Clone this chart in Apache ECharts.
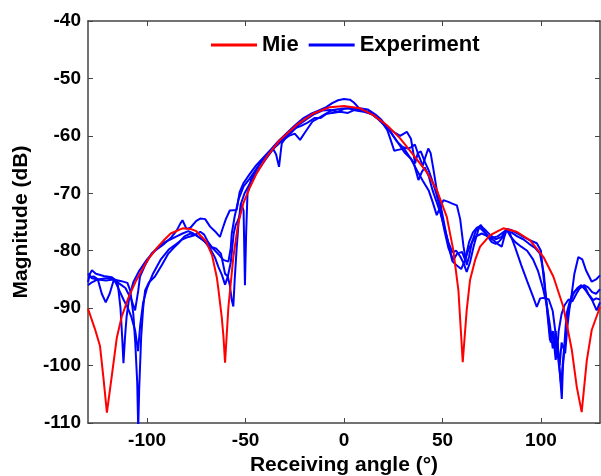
<!DOCTYPE html>
<html>
<head>
<meta charset="utf-8">
<script src="https://cdn.jsdelivr.net/npm/echarts@6/dist/echarts.min.js"></script>
<style>
  html, body { margin: 0; padding: 0; background: #fff; }
  #chart { width: 601px; height: 476px; }
</style>
</head>
<body>
<div id="chart"></div>
<script>
// tick positions
const xTicks = [-100, -50, 0, 50, 100];

// Mie theory curve
const mieAngle = [-130, -126.5, -123.9, -122.2, -120.4, -118, -115.4, -112.9, -109.5, -106, -99.5, -95, -91, -88, -82, -78, -75, -70, -67, -64.5, -63.5, -62.1, -61.2, -60.4,
  -58.7, -56.2, -53.7, -51.1, -47.7, -44.3, -39.2, -32.5, -24, -15.6, -7.1, 0, 8.1, 14.9, 21.7, 28.4, 35.2, 42, 47.1, 52.2, 55.5, 58.1, 60.3,
  62.3, 64, 66.6, 69.1, 74.2, 80.9, 87.7, 94.5, 101.3, 106.3, 111.4, 115.7, 118.2, 120.7, 123.3, 125.8, 130];
const mieDb = [-90.1, -93.6, -96.6, -102, -108.2, -102, -95.2, -91.5, -88.2, -85.5, -81.5, -79.5, -78, -77, -76.1, -76.2, -76.6, -78.4, -80.8, -84.8, -87.5, -91.5, -95, -99.5,
  -89.8, -81.1, -75.2, -71.7, -68.9, -66.5, -63.6, -60.7, -58.1, -56.1, -55.0, -54.8, -55.2, -56.4, -58.1, -60.4, -63.3, -66.3, -69.4, -74.1, -79.9, -86.9, -99.4,
  -90.4, -85.1, -81.6, -79.3, -77.3, -76.1, -76.7, -78.2, -81.1, -84.5, -89.8, -97.3, -103.7, -108.1, -99.1, -93.8, -89.8];

// measured curves
const exp1Angle = [-130, -129, -128, -126, -122, -118, -115, -113.5, -112.5, -112, -111.2, -110.4, -109, -107, -104, -100, -96, -92, -88, -85, -83, -82, -80, -78, -75, -73, -70.5, -68, -65, -63, -61.5, -60, -58, -54.5, -53, -51, -48, -45, -41, -37, -33, -29, -25, -21, -17, -13, -9, -6, -3, 0, 3, 5, 8, 12, 16, 19, 22, 24, 25.5, 28, 30.5, 33, 35.5, 37.8, 39.5, 41, 43, 45, 47, 49, 51, 53, 55, 57, 59, 60.5, 62.3, 64, 66, 68.5, 69.5, 71, 73, 75, 78, 80, 82, 85, 88, 91, 94, 97, 99.5, 101.5, 103, 104.6, 106, 107.5, 108.5, 110, 110.6, 111.2, 112.5, 113.5, 115, 117, 119, 121, 123, 125.8, 128, 130];
const exp1Db = [-85.5, -84, -83.4, -84, -84.4, -84.6, -85.4, -90, -96, -99.6, -95, -91.5, -88, -85.5, -83.5, -81.5, -80, -79, -77.8, -76.5, -75.2, -74.7, -76.2, -76, -74.8, -74.4, -74.5, -75.8, -76.8, -77.6, -76, -74.5, -73, -72.9, -69.8, -68.2, -66.7, -65.3, -63.8, -62.3, -60.8, -59.5, -58.2, -57, -56.2, -55.6, -55, -54.3, -53.8, -53.6, -53.7, -54.2, -55.3, -55.8, -56.6, -57.5, -59, -61, -62.6, -62.4, -62.2, -63.5, -64.8, -67.7, -66.3, -65.5, -67, -69.5, -71.5, -73.5, -76, -78.5, -80.3, -80, -81, -82, -83.7, -82, -79, -76, -75.5, -76.5, -77.5, -77.8, -77.5, -77, -76.5, -76.8, -77.5, -78, -78.8, -79.5, -80.5, -84, -90, -95.6, -94, -99, -96, -103, -105.8, -100, -95, -91, -89.2, -84, -81.1, -81.5, -83.5, -85.4, -85, -84.3];

const exp2Angle = [-130, -127, -125, -123, -121, -119, -117, -115, -113, -111, -108, -106.1, -104.5, -103.6, -101, -97.7, -94, -91, -88, -85, -82, -79, -76.5, -73, -69.7, -66, -63, -61.3, -58.7, -57.5, -57, -55.5, -53.5, -51, -48, -45, -42, -39, -36, -34.5, -33, -32.2, -31.6, -29, -26, -22, -19, -15, -12, -9, -6, -2, 2, 6, 10, 14, 17, 20, 23, 26, 28.5, 31.9, 34, 36.1, 37.5, 39, 41, 43, 45, 47, 49, 51, 53, 55.5, 57.5, 60, 61.5, 63, 65, 67, 70, 73, 76, 78, 80.1, 81.5, 82.6, 84.3, 87, 90, 93, 96, 97.9, 99.6, 102, 104, 106, 107.3, 108, 109, 110.5, 112, 114, 116, 118, 120, 122.4, 124, 126.6, 128, 130];
const exp2Db = [-84.6, -84.5, -85, -87.5, -89, -87.5, -85.2, -85.5, -86, -86.5, -88.5, -90.4, -87, -84.5, -82.5, -80.5, -79.3, -78.5, -78, -77.5, -77, -76.6, -77, -77.8, -78.7, -79.8, -80.9, -81.6, -81.9, -79.5, -77, -74, -71, -68.8, -67.5, -66, -64.5, -63.3, -62.3, -63.2, -65.4, -63, -61.3, -60, -58.8, -58.3, -57.8, -56.9, -56.9, -56.2, -56, -55.8, -56, -55.4, -55.6, -56.2, -57, -58, -58.8, -59.5, -60, -59.3, -60.5, -64.8, -63, -62.7, -64.5, -66, -68, -70.2, -73, -76.5, -79.5, -81.6, -80.5, -80.2, -81.6, -80, -78.5, -77.5, -77, -77.5, -78.2, -78.8, -79.3, -77.5, -76.4, -77, -79.5, -82.5, -85.3, -88, -89.8, -88.3, -88.2, -88.5, -90.5, -94, -98.5, -94, -91, -89.5, -88.5, -88.8, -87.5, -86.3, -86.3, -87.5, -88.6, -88.3, -88.5];

const exp3Angle = [-130, -128, -125, -121, -117, -113, -110, -108.5, -107, -106, -105, -104.5, -104, -103, -102, -101, -99, -96, -92.5, -89.2, -86.5, -84.1, -81, -78, -75, -71, -68, -65.5, -63.8, -62, -60.4, -59, -58, -57, -56.2, -55.5, -54.5, -53.5, -52.5, -50.5, -47, -44, -40, -36, -32, -28, -25, -22.3, -20, -16, -13, -10, -6, -2, 2, 6, 10, 14, 18, 21, 24, 27, 30, 32.5, 34, 36, 38, 40, 41.5, 42.8, 44, 45.5, 47.1, 49, 51, 53, 55, 57, 59.5, 61.5, 63.5, 65.5, 67.5, 69.5, 71.5, 74, 77, 80, 82.6, 85, 88, 91.1, 94, 97.9, 100, 101.3, 102.5, 103.8, 105, 106, 107, 108, 109.5, 110.5, 111.5, 112.3, 113.5, 114.8, 116.5, 118.5, 120.5, 122.5, 124.5, 126, 128.3, 130];
const exp3Db = [-84, -84.8, -85, -85.2, -85, -85.3, -85.6, -87, -91, -96, -103, -111, -104, -95, -90, -86.9, -85.5, -84.5, -82.5, -80.5, -79.5, -78.7, -77.5, -77, -77.3, -78.3, -79.6, -81.2, -82.8, -84.2, -85.9, -84.5, -86, -88.6, -89.7, -85, -79.5, -75, -72, -70, -67.8, -66.2, -64.2, -62.3, -61, -60, -59.6, -60.7, -59.5, -57.5, -56.9, -56.3, -55.5, -55.3, -55.2, -55.6, -55.8, -56.2, -57.2, -58.1, -59.5, -61, -62, -62.2, -62, -61.5, -63.5, -65.2, -63.5, -62.2, -63, -66, -69.4, -72, -75.5, -79, -81.8, -82.5, -83.2, -81.6, -78.5, -76.8, -76, -75.7, -76.3, -77.2, -78, -77.6, -76.2, -76.4, -77, -77.6, -78.1, -78.7, -80, -84.5, -88, -92, -96, -94, -97, -95, -100, -96, -97, -97.9, -93, -89.2, -87.5, -86.5, -86, -86.8, -87.8, -88.6, -90.4, -89];

const exp4Angle = [-130, -128, -125, -121, -118, -116, -114, -112, -110, -108, -106, -104.6, -103.5, -102, -100, -97, -93, -89, -85, -82, -79, -76, -73, -71, -69, -67, -65, -62.5, -60.4, -59, -57.5, -56, -55, -54, -53, -52, -51, -50.3, -49.7, -49, -47, -44, -41, -37.5, -34, -30, -27, -23, -19, -15, -11, -7, -3, 0, 4, 8, 12, 16, 19, 22, 25, 28, 31, 34, 37, 40, 43, 45, 47.1, 49, 50.5, 53, 55, 57.3, 59, 60.7, 62.3, 63.5, 65, 67, 69, 72, 75, 77, 79, 81, 82.6, 84.5, 87, 90, 93, 96, 98.5, 101, 103, 104.6, 106, 107.5, 108.5, 109.5, 110.3, 111, 112, 113, 114.5, 116, 118, 120, 122, 124, 126, 128, 130];
const exp4Db = [-86, -85.5, -85, -84.8, -84.7, -85.5, -87, -88.5, -89.8, -91.5, -94, -97.5, -93, -89, -86.5, -84, -81.5, -79.8, -78.8, -78, -77.6, -77.3, -76.7, -77.2, -78.5, -79.4, -79.6, -80.5, -84, -84.5, -82, -77, -75.5, -74.8, -74, -72, -73, -86, -77, -70, -67.4, -65.6, -64, -62.7, -61.6, -60.2, -59.5, -58.1, -57.1, -56.2, -55.6, -55.5, -55.8, -55.3, -55.1, -55.2, -55.4, -56.3, -57.2, -58.5, -60, -61.5, -63, -64, -66, -67.8, -69.5, -71.5, -73.8, -72.3, -71.2, -71.5, -71.8, -72.1, -74.5, -79.3, -82.5, -81, -78.5, -76.5, -76, -77, -78.5, -78.8, -78.3, -77.5, -76.3, -77.5, -78.5, -79.3, -80, -81.5, -83.5, -86.5, -89.5, -93, -97, -94, -98, -101, -103.5, -100, -96, -91, -89, -87.5, -86.8, -86.5, -86, -86.4, -87.2, -87.5, -86.7];

const pairs = (xs, ys) => xs.map((x, i) => [x, ys[i]]);

const chart = echarts.init(document.getElementById('chart'), null, { renderer: 'canvas' });

const FONT = 'Liberation Sans, Arial, sans-serif';
const axisColor = '#444';

const blueSeries = [
  pairs(exp1Angle, exp1Db),
  pairs(exp2Angle, exp2Db),
  pairs(exp3Angle, exp3Db),
  pairs(exp4Angle, exp4Db),
].map(data => ({
  name: 'Experiment',
  type: 'line',
  symbol: 'none',
  lineStyle: { color: '#0000ff', width: 2 },
  itemStyle: { color: '#0000ff' },
  data,
  z: 2,
}));

const option = {
  backgroundColor: '#fff',
  animation: false,
  grid: { left: 88, right: 1, top: 21, bottom: 53, outerBoundsMode: 'none', containLabel: false },
  legend: {
    data: ['Mie', 'Experiment'],
    left: 211,
    top: 34,
    padding: 0,
    icon: 'rect',
    itemWidth: 46,
    itemHeight: 3,
    itemGap: 10,
    textStyle: { fontFamily: FONT, fontSize: 22, fontWeight: 'bold', color: '#000' },
  },
  xAxis: [
    {
      type: 'value',
      min: -130,
      max: 130,
      position: 'bottom',
      axisLine: { onZero: false, lineStyle: { color: axisColor, width: 1.5 } },
      axisTick: { inside: true, length: 5, customValues: xTicks, lineStyle: { color: axisColor } },
      axisLabel: { customValues: xTicks, fontFamily: FONT, fontSize: 19, fontWeight: 'bold', color: '#000', margin: 8 },
      splitLine: { show: false },
      name: 'Receiving angle (°)',
      nameLocation: 'middle',
      nameGap: 30,
      nameTextStyle: { fontFamily: FONT, fontSize: 21, fontWeight: 'bold', color: '#000' },
    },
    {
      type: 'value',
      min: -130,
      max: 130,
      position: 'top',
      axisLine: { onZero: false, lineStyle: { color: axisColor, width: 1.5 } },
      axisTick: { inside: true, length: 5, customValues: xTicks, lineStyle: { color: axisColor } },
      axisLabel: { show: false },
      splitLine: { show: false },
    },
  ],
  yAxis: [
    {
      type: 'value',
      min: -110,
      max: -40,
      interval: 10,
      position: 'left',
      axisLine: { show: true, onZero: false, lineStyle: { color: axisColor, width: 1.5 } },
      axisTick: { show: true, inside: true, length: 5, lineStyle: { color: axisColor } },
      axisLabel: { fontFamily: FONT, fontSize: 19, fontWeight: 'bold', color: '#000', margin: 7 },
      splitLine: { show: false },
      name: 'Magnitude (dB)',
      nameLocation: 'middle',
      nameGap: 55,
      nameTextStyle: { fontFamily: FONT, fontSize: 21, fontWeight: 'bold', color: '#000' },
    },
    {
      type: 'value',
      min: -110,
      max: -40,
      interval: 10,
      position: 'right',
      axisLine: { show: true, onZero: false, lineStyle: { color: axisColor, width: 1.5 } },
      axisTick: { show: true, inside: true, length: 5, lineStyle: { color: axisColor } },
      axisLabel: { show: false },
      splitLine: { show: false },
    },
  ],
  series: [
    ...blueSeries,
    {
      name: 'Mie',
      type: 'line',
      symbol: 'none',
      lineStyle: { color: '#ff0000', width: 2 },
      itemStyle: { color: '#ff0000' },
      data: pairs(mieAngle, mieDb),
      z: 3,
    },
  ],
};

chart.setOption(option);
</script>
</body>
</html>
